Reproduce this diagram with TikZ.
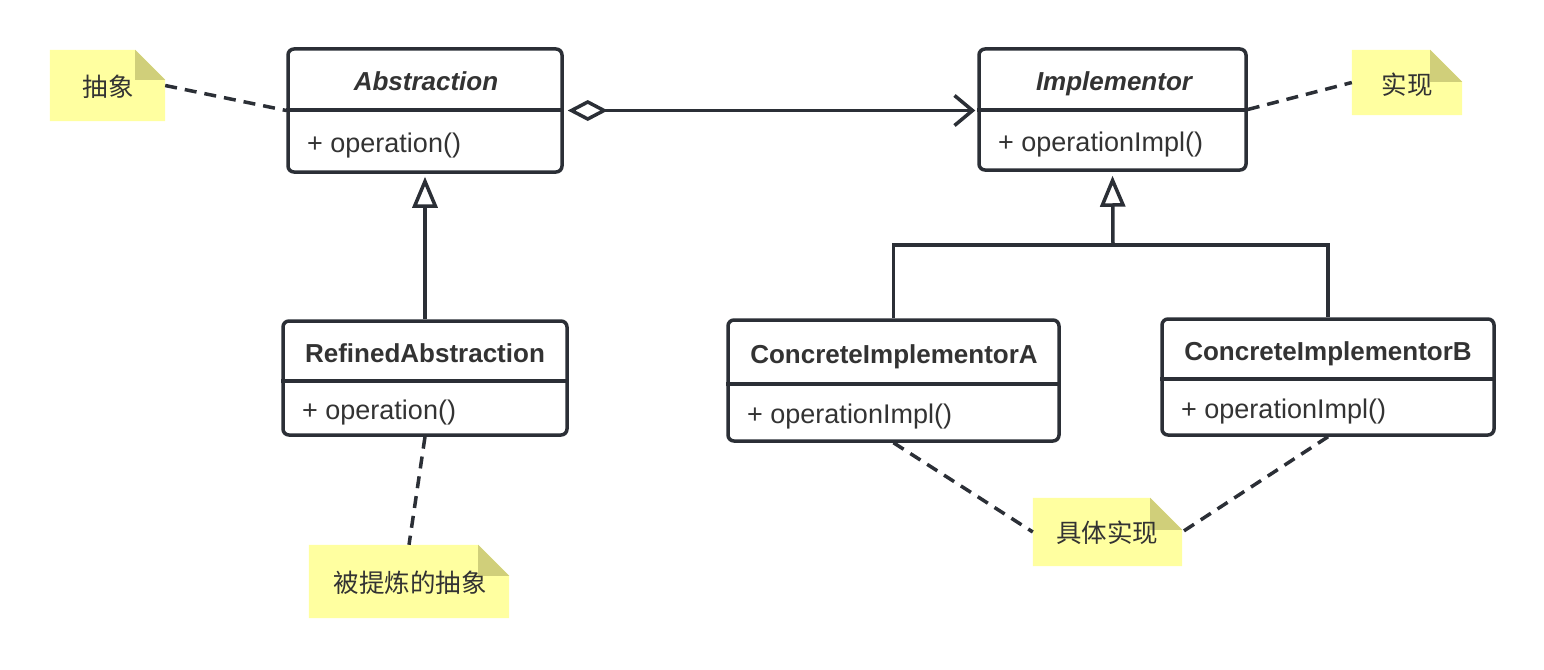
\documentclass[tikz,border=0pt]{standalone}
\usepackage{fontspec}
\setmainfont{Liberation Sans}
\newfontfamily\cjk{Noto Sans CJK SC}
\usetikzlibrary{arrows.meta,calc}
\definecolor{ink}{RGB}{43,47,54}
\definecolor{txt}{RGB}{51,51,51}
\definecolor{notefill}{RGB}{255,255,160}
\definecolor{foldc}{RGB}{208,207,122}
\tikzset{
  cls/.style={draw=ink, line width=3.5pt, rounded corners=6pt, fill=white, inner sep=0pt},
  ttl/.style={font=\fontsize{26}{30}\selectfont\bfseries, text=txt, inner sep=0pt},
  ttli/.style={font=\fontsize{26}{30}\selectfont\bfseries\itshape, text=txt, inner sep=0pt},
  opr/.style={font=\fontsize{27}{31}\selectfont, text=txt, inner sep=0pt, anchor=west},
  notebox/.style={inner sep=0pt, font=\fontsize{25.5}{30}\selectfont\cjk, text=txt},
  divider/.style={draw=ink, line width=3.5pt},
  conn/.style={draw=ink, line width=3.5pt},
  dashconn/.style={draw=ink, line width=3.5pt, dash pattern=on 12pt off 8pt},
  inhtip/.style={-{Triangle[open, fill=white, length=31pt, width=25pt, line width=3.5pt]}},
}
\newcommand{\drawnote}[2]{%
  \fill[notefill] (#1.north west) -- ($(#1.north east)+(-#2,0)$) -- ($(#1.north east)+(0,#2)$) -- (#1.south east) -- (#1.south west) -- cycle;
  \fill[foldc] ($(#1.north east)+(-#2,0)$) -- ($(#1.north east)+(-#2,#2)$) -- ($(#1.north east)+(0,#2)$) -- cycle;
}
\begin{document}
\begin{tikzpicture}[x=1pt,y=-1pt]
\useasboundingbox (0,0) rectangle (1544,669);
\fill[white] (0,0) rectangle (1544,669);

% class boxes
\node[cls, minimum width=274pt, minimum height=123pt] (abs) at (425,110.5) {};
\draw[divider] (abs.west |- 0,110) -- (abs.east |- 0,110);
\node[ttli] (absT) at (426,81) {Abstraction};
\node[opr] (absO) at (307,146) {+ operation()};

\node[cls, minimum width=267pt, minimum height=121pt] (imp) at (1112.5,109.5) {};
\draw[divider] (imp.west |- 0,110) -- (imp.east |- 0,110);
\node[ttli] (impT) at (1114,84) {Implementor};
\node[opr] (impO) at (998,145) {+ operationImpl()};

\node[cls, minimum width=284pt, minimum height=114pt] (ref) at (425,378) {};
\draw[divider] (ref.west |- 0,381) -- (ref.east |- 0,381);
\node[ttl] (refT) at (425,353) {RefinedAbstraction};
\node[opr] (refO) at (302,413) {+ operation()};

\node[cls, minimum width=331pt, minimum height=121pt] (cia) at (893.5,380.5) {};
\draw[divider] (cia.west |- 0,384) -- (cia.east |- 0,384);
\node[ttl] (ciaT) at (894,357) {ConcreteImplementorA};
\node[opr] (ciaO) at (747,417) {+ operationImpl()};

\node[cls, minimum width=332pt, minimum height=116pt] (cib) at (1328,377) {};
\draw[divider] (cib.west |- 0,379) -- (cib.east |- 0,379);
\node[ttl] (cibT) at (1328,353.5) {ConcreteImplementorB};
\node[opr] (cibO) at (1181,412) {+ operationImpl()};

% notes
\node[notebox, minimum width=115pt, minimum height=71pt] (n1) at (107.5,85.5) {};
\drawnote{n1}{30}
\node[notebox] (n1t) at (108,87) {抽象};

\node[notebox, minimum width=110pt, minimum height=65pt] (n2) at (1407,82.5) {};
\drawnote{n2}{32}
\node[notebox] (n2t) at (1407,85) {实现};

\node[notebox, minimum width=200pt, minimum height=73pt] (n3) at (409,581.5) {};
\drawnote{n3}{31}
\node[notebox] (n3t) at (410,583) {被提炼的抽象};

\node[notebox, minimum width=149pt, minimum height=68pt] (n4) at (1107.5,532) {};
\drawnote{n4}{32}
\node[notebox] (n4t) at (1107,533) {具体实现};

% dashed note links
\draw[dashconn] (n1.east) -- (abs.west);
\draw[dashconn] (imp.east) -- (n2.west);
\draw[dashconn] (ref.south) -- (n3.north);
\draw[dashconn] (cia.south) -- (n4.west);
\draw[dashconn] (cib.south) -- (n4.east);

% aggregation
\draw[conn, {Diamond[open, fill=white, length=40pt, width=21pt, line width=3.5pt]}-{Straight Barb[length=18pt, width=30pt, line width=3.5pt]}, shorten <=4pt, shorten >=2pt]
  (abs.east) -- (abs.east -| imp.west);

% inheritance
\draw[conn, inhtip, shorten >=3pt] (ref.north) -- (abs.south);
\coordinate (jn) at (1113,245);
\draw[conn] (cia.north) |- (jn) -| (cib.north);
\draw[conn, inhtip, shorten >=4pt] (jn) -- (imp.south);
\end{tikzpicture}
\end{document}
